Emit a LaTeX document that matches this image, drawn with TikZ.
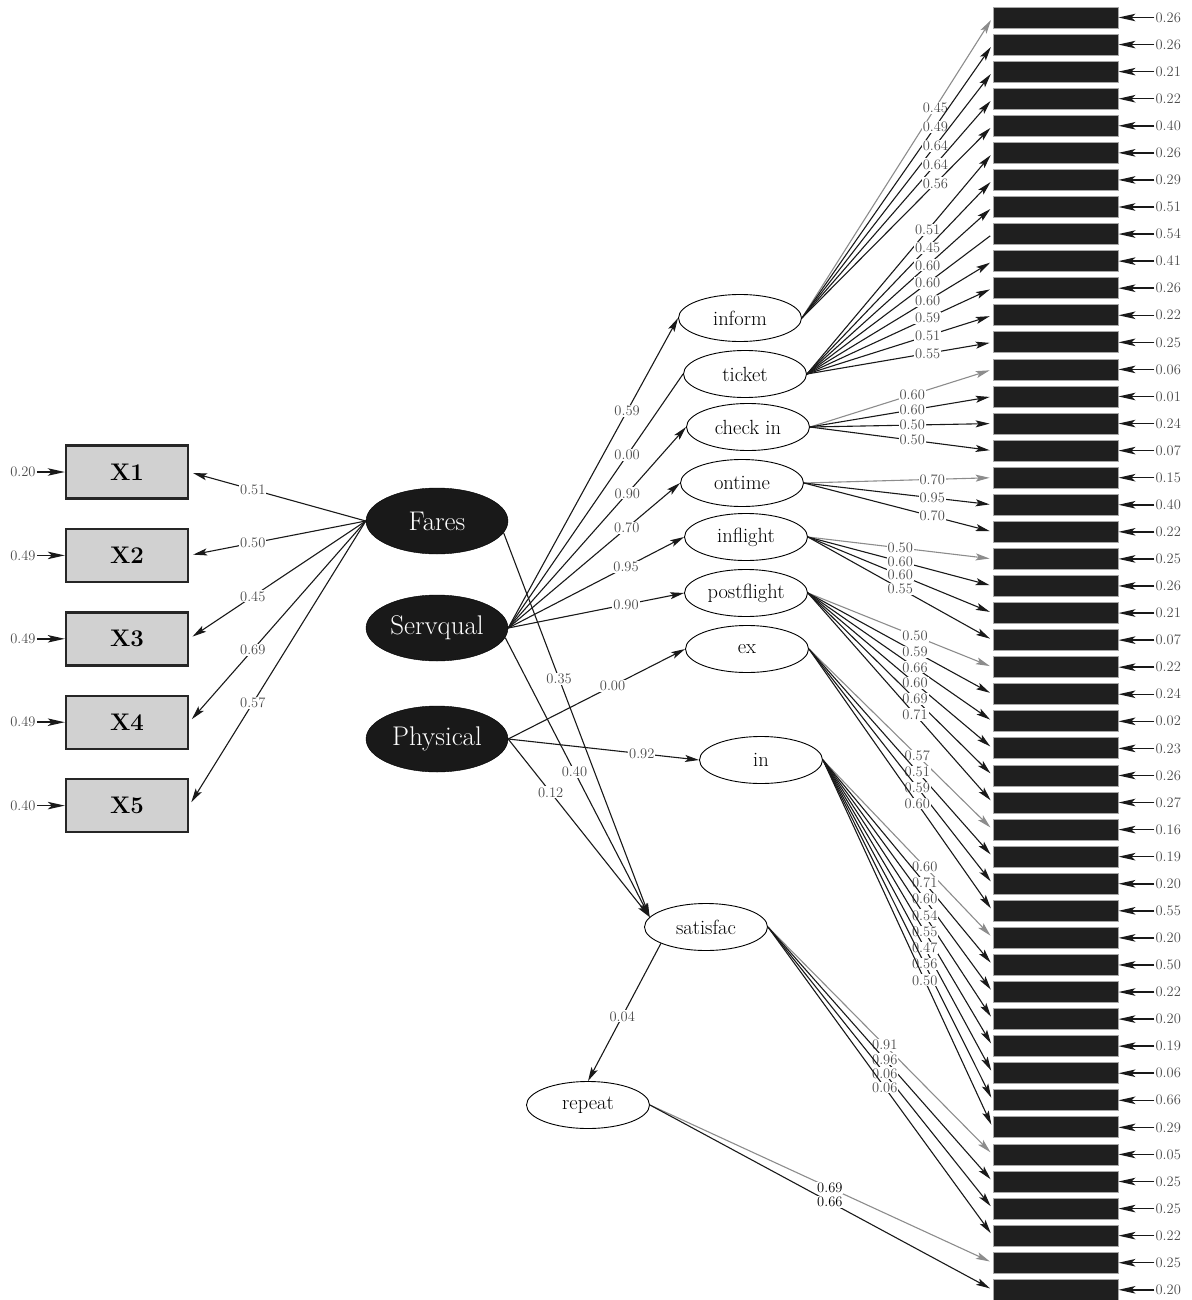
\documentclass[tikz,border=0pt]{standalone}
\usepackage{fontspec}
\usepackage{tikz}
\usetikzlibrary{arrows.meta,positioning,calc,shapes.geometric}
\colorlet{pathdark}{black!90}
\colorlet{pathgrey}{black!45}
\tikzset{
  factorellipse/.style={ellipse,draw=black,fill=black!90,text=white,inner sep=0pt,
    minimum width=142pt,minimum height=66pt,font=\fontsize{27}{29}\selectfont},
  latentellipse/.style={ellipse,draw=black,fill=white,line width=0.9pt,inner sep=0pt,
    minimum width=123pt,minimum height=47pt,font=\fontsize{20.5}{22}\selectfont},
  xbox/.style={draw=black!85,fill=black!18,line width=2.4pt,
    minimum width=122pt,minimum height=53pt,font=\fontsize{24}{26}\selectfont\bfseries},
  itembox/.style={draw=black!35,fill=black!88,line width=0.8pt,inner sep=0pt,
    minimum width=125pt,minimum height=21pt},
  valuelabel/.style={fill=white,inner sep=1pt,text=black!70,font=\fontsize{14.5}{15}\selectfont},
  residlabel/.style={inner sep=1pt,text=black!70,font=\fontsize{14.5}{15}\selectfont},
  patharrow/.style={-{Stealth[length=14pt,width=7pt,inset=3pt]},line width=1.1pt,draw=pathdark},
  plainline/.style={line width=1.1pt,draw=pathdark},
  residarrow/.style={-{Stealth[length=17pt,width=7.5pt,inset=4pt]},line width=1.5pt,draw=pathdark}
}
\begin{document}
\begin{tikzpicture}[x=1pt,y=-1pt,node distance=28pt]
  \useasboundingbox (0,0) rectangle (1191,1300);
  \node[xbox] (X1) at (127,472) {X1};
  \node[xbox,below=of X1] (X2) {X2};
  \node[xbox,below=of X2] (X3) {X3};
  \node[xbox,below=of X3] (X4) {X4};
  \node[xbox,below=of X4] (X5) {X5};
  \foreach \x/\v in {1/0.20,2/0.49,3/0.49,4/0.49,5/0.40} {
    \node[residlabel,left=28pt of X\x] (e\x) {\v};
    \draw[residarrow] (e\x) -- (X\x);
  }
  \node[factorellipse] (Fares) at (437,521) {Fares};
  \node[factorellipse] (Servqual) at (437,628) {Servqual};
  \node[factorellipse] (Physical) at (437,739) {Physical};
  \node[latentellipse] (inform) at (740,318) {inform};
  \node[latentellipse] (ticket) at (745,374) {ticket};
  \node[latentellipse] (checkin) at (748,427) {check in};
  \node[latentellipse] (ontime) at (742,483) {ontime};
  \node[latentellipse] (inflight) at (746,537) {inflight};
  \node[latentellipse] (postflight) at (746,593) {postflight};
  \node[latentellipse] (exfac) at (747,649) {ex};
  \node[latentellipse] (infac) at (761,760) {in};
  \node[latentellipse] (satisfac) at (706,927) {satisfac};
  \node[latentellipse] (repeat) at (588,1105) {repeat};
  \foreach \v [count=\i] in {0.26,0.26,0.21,0.22,0.40,0.26,0.29,0.51,0.54,0.41,0.26,0.22,
      0.25,0.06,0.01,0.24,0.07,0.15,0.40,0.22,0.25,0.26,0.21,0.07,0.22,0.24,0.02,0.23,
      0.26,0.27,0.16,0.19,0.20,0.55,0.20,0.50,0.22,0.20,0.19,0.06,0.66,0.29,0.05,0.25,
      0.25,0.22,0.25,0.20} {
    \node[itembox] (b\i) at (1055.5,{17.5+(\i-1)*27.07}) {};
    \node[residlabel,right=36pt of b\i] (r\i) {\v};
    \draw[residarrow] (r\i) -- (b\i);
  }
  \foreach \x/\v in {1/0.51,2/0.50,3/0.45,4/0.69,5/0.57}
    \draw[patharrow,shorten >=4pt] (Fares.west) -- node[valuelabel,pos=0.64] {\v} (X\x.east);
  \foreach \t/\v/\p in {inform/0.59/0.70,checkin/0.90/0.67,ontime/0.70/0.69,
      inflight/0.95/0.67,postflight/0.90/0.67}
    \draw[patharrow] (Servqual.east) -- node[valuelabel,pos=\p] {\v} (\t.west);
  \draw[plainline] (Servqual.east) -- node[valuelabel,pos=0.68] {0.00} (ticket.west);
  \draw[patharrow] (Physical.east) -- node[valuelabel,pos=0.59] {0.00} (exfac.west);
  \draw[patharrow] (Physical.east) -- node[valuelabel,pos=0.70] {0.92} (infac.west);
  \draw[patharrow] (Fares.-10) -- node[valuelabel,pos=0.38] {0.35} (satisfac.170);
  \draw[patharrow] (Servqual.-8) -- node[valuelabel,pos=0.48] {0.40} (satisfac.170);
  \draw[patharrow] (Physical.east) -- node[valuelabel,pos=0.30] {0.12} (satisfac.170);
  \draw[patharrow] (satisfac.200) -- node[valuelabel,pos=0.53] {0.04} (repeat.north);
  \foreach \b/\v/\c in {1/0.45/pathgrey,2/0.49/pathdark,3/0.64/pathdark,4/0.64/pathdark,5/0.56/pathdark}
    \draw[patharrow,draw=\c,shorten >=3pt] (inform.east) -- node[valuelabel,pos=0.70] {\v} (b\b.west);
  \foreach \b/\v in {6/0.51,7/0.45,8/0.60,10/0.60,11/0.59,12/0.51,13/0.55}
    \draw[patharrow,shorten >=3pt] (ticket.east) -- node[valuelabel,pos=0.65] {\v} (b\b.west);
  \draw[plainline,shorten >=3pt] (ticket.east) -- node[valuelabel,pos=0.65] {0.60} (b9.west);
  \foreach \b/\v/\c in {14/0.60/pathgrey,15/0.60/pathdark,16/0.50/pathdark,17/0.50/pathdark}
    \draw[patharrow,draw=\c,shorten >=3pt] (checkin.east) -- node[valuelabel,pos=0.56] {\v} (b\b.west);
  \foreach \b/\v/\c in {18/0.70/pathgrey,19/0.95/pathdark,20/0.70/pathdark}
    \draw[patharrow,draw=\c,shorten >=3pt] (ontime.east) -- node[valuelabel,pos=0.68] {\v} (b\b.west);
  \foreach \b/\v/\c in {21/0.50/pathgrey,22/0.60/pathdark,23/0.60/pathdark,24/0.55/pathdark}
    \draw[patharrow,draw=\c,shorten >=3pt] (inflight.east) -- node[valuelabel,pos=0.50] {\v} (b\b.west);
  \foreach \b/\v/\c in {25/0.50/pathgrey,26/0.59/pathdark,27/0.66/pathdark,28/0.60/pathdark,
      29/0.69/pathdark,30/0.71/pathdark}
    \draw[patharrow,draw=\c,shorten >=3pt] (postflight.east) -- node[valuelabel,pos=0.58] {\v} (b\b.west);
  \foreach \b/\v/\c in {31/0.57/pathgrey,32/0.51/pathdark,33/0.59/pathdark,34/0.60/pathdark}
    \draw[patharrow,draw=\c,shorten >=3pt] (exfac.east) -- node[valuelabel,pos=0.59] {\v} (b\b.west);
  \foreach \b/\v/\c in {35/0.60/pathgrey,36/0.71/pathdark,37/0.60/pathdark,38/0.54/pathdark,
      39/0.55/pathdark,40/0.47/pathdark,41/0.56/pathdark,42/0.50/pathdark}
    \draw[patharrow,draw=\c,shorten >=3pt] (infac.east) -- node[valuelabel,pos=0.60] {\v} (b\b.west);
  \foreach \b/\v/\c in {43/0.91/pathgrey,44/0.96/pathdark,45/0.06/pathdark,46/0.06/pathdark}
    \draw[patharrow,draw=\c,shorten >=3pt] (satisfac.east) -- node[valuelabel,pos=0.52] {\v} (b\b.west);
  \foreach \b/\v/\c in {47/0.69/pathgrey,48/0.66/pathdark}
    \draw[patharrow,draw=\c,shorten >=3pt] (repeat.east) -- node[valuelabel,text=black,pos=0.525] {\v} (b\b.west);
\end{tikzpicture}
\end{document}
